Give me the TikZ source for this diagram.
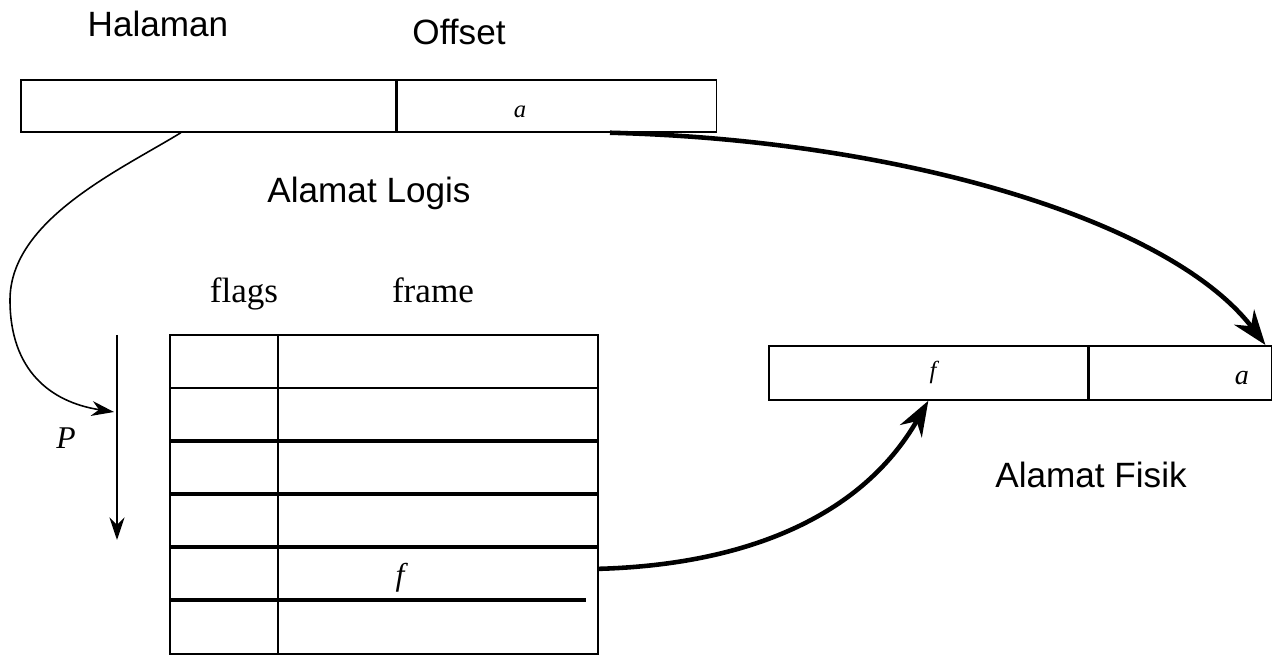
\documentclass[tikz,border=0pt]{standalone}
\usepackage{fontspec}
\setmainfont{Liberation Serif}
\setsansfont{Liberation Sans}
\usetikzlibrary{arrows.meta}

\begin{document}
\begin{tikzpicture}[x=0.02cm, y=-0.02cm,
    cell/.style={draw, line width=1pt, inner sep=0pt, anchor=north west},
    slot/.style={inner sep=0pt, anchor=north west, minimum height=1.06cm},
    label/.style={font=\sffamily\fontsize{20}{24}\selectfont},
    head/.style={font=\rmfamily\fontsize{20}{24}\selectfont},
    var/.style={font=\rmfamily\itshape\fontsize{#1}{#1}\selectfont},
    rule/.style={line width=2.3pt},
    bigarrow/.style={line width=2.6pt, -{Stealth[length=7mm, width=5mm]}},
    thinarrow/.style={line width=0.9pt, -{Stealth[length=4.5mm, width=3mm]}}]

        \useasboundingbox (0,0) rectangle (1272,658);

        % ---------------------------------------------------
        % 1. Logical address (top)
        % ---------------------------------------------------
        \node[cell, minimum width=7.5cm, minimum height=1.04cm] (page) at (20,79) {};
        \node[cell, minimum width=6.38cm, minimum height=1.04cm] (offset) at (page.north east) {};

        \node[label, anchor=base] (halaman) at (158,37) {Halaman};
        \node[label, anchor=base] (offsetlbl) at (459,45) {Offset};
        \node[label, anchor=base] (logis) at (369,203) {Alamat Logis};
        \node[var=14] (alog) at (520,112) {a};

        % ---------------------------------------------------
        % 2. Page table
        % ---------------------------------------------------
        \foreach \r in {1,...,6}{
            \node[slot, minimum width=2.14cm] (fl\r) at (170,{335+53*(\r-1)}) {};
            \node[slot, minimum width=6.4cm] (fr\r) at (fl\r.north east) {};
        }
        \draw[line width=1pt] (fl1.north west) rectangle (fr6.south east);
        \draw[line width=1pt] (fl1.north east) -- (fl6.south east);
        \draw[line width=1pt] (fl2.north west) -- (fr2.north east);
        \foreach \r in {3,4,5}
            \draw[rule] (fl\r.north west) -- (fr\r.north east);
        \draw[rule] (fl6.north west) -- ([xshift=-0.25cm]fr6.north east);

        \node[head, anchor=base] (flags) at (244,303) {flags};
        \node[head, anchor=base] (framelbl) at (433,303) {frame};
        \node[var=18] (ftab) at (400,578) {f};

        % index arrow p
        \coordinate (ptop) at (117,335);
        \coordinate (pbot) at (117,540);
        \draw[line width=1pt, -{Stealth[length=4.5mm, width=3mm]}] (ptop) -- (pbot);
        \node[var=18] (plbl) at (66,438) {P};

        % ---------------------------------------------------
        % 3. Physical address (right)
        % ---------------------------------------------------
        \node[cell, minimum width=6.38cm, minimum height=1.08cm] (frame) at (768,345) {};
        \node[cell, minimum width=3.64cm, minimum height=1.08cm] (disp) at (frame.north east) {};

        \node[var=14] (fphys) at (933,372) {f};
        \node[var=16] (aphys) at (1242,378) {a};
        \node[label, anchor=base] (fisik) at (1091,488) {Alamat Fisik};

        % ---------------------------------------------------
        % 4. Connectors
        % ---------------------------------------------------
        \coordinate (pin) at (114,412);
        \draw[thinarrow] ([xshift=-0.55cm]page.south)
            .. controls (120,170) and (10,220) .. (10,300)
            .. controls (10,370) and (50,402) .. (pin);

        \draw[bigarrow] ([xshift=1.06cm]offset.south)
            .. controls (900,140) and (1170,220) .. ([xshift=-0.14cm]disp.north east);

        \draw[bigarrow] ([yshift=0.1cm]fr5.east)
            .. controls (740,565) and (860,520) .. (frame.south);

\end{tikzpicture}
\end{document}
